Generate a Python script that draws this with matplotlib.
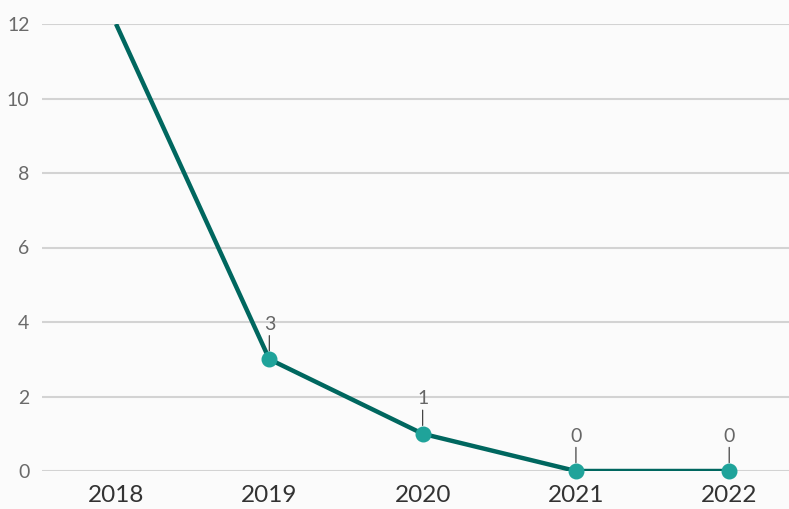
import matplotlib
matplotlib.use("Agg")
import matplotlib.pyplot as plt

years = ["2018", "2019", "2020", "2021", "2022"]
counts = [12, 3, 1, 0, 0]
labelled = [False, True, True, True, True]

plt.rcParams['font.family'] = ['Lato', 'DejaVu Sans']

line_color = "#00675f"
dot_color = "#1fa39a"
bg = "#fbfbfb"

fig = plt.figure(figsize=(7.89, 5.09), dpi=100, facecolor=bg)
ax = fig.add_axes([42 / 789, 1 - 471 / 509, 1 - 42 / 789, (471 - 24) / 509])
ax.set_facecolor(bg)

x = list(range(len(years)))
ax.plot(x, counts, color=line_color, lw=3.2, solid_capstyle="butt", zorder=3)

mx = [i for i, f in zip(x, labelled) if f]
my = [c for c, f in zip(counts, labelled) if f]
ax.plot(mx, my, "o", color=dot_color, ms=10.5, zorder=4, clip_on=False)

for i, c in zip(mx, my):
    ax.annotate(str(c), xy=(i, c), xytext=(0, 19), textcoords="offset points",
                ha="center", va="bottom", fontsize=14, color="#666666",
                arrowprops=dict(arrowstyle="-", color="#444444", lw=0.9,
                                shrinkA=0, shrinkB=6))

ax.set_xlim(-0.483, 4.39)
ax.set_ylim(0, 12)
ax.set_yticks(range(0, 13, 2))
ax.set_xticks(x)
ax.set_xticklabels(years)

ax.grid(axis="y", color="#d3d3d3", lw=1.5)
ax.set_axisbelow(True)
for s in ax.spines.values():
    s.set_visible(False)
ax.tick_params(axis="both", length=0)
ax.tick_params(axis="y", labelsize=14, labelcolor="#6a6a6a", pad=9)
ax.tick_params(axis="x", labelsize=17.5, labelcolor="#333333", pad=10)

fig.savefig("out.png", dpi=100, facecolor=bg)
